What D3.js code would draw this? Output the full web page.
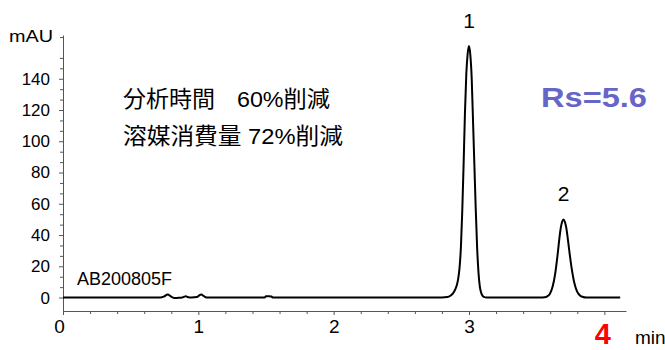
<!DOCTYPE html>
<html><head><meta charset="utf-8">
<script src="https://cdn.jsdelivr.net/npm/d3@7"></script>
<style>
html,body{margin:0;padding:0;background:#fff;}
svg{display:block;}
text{font-family:"Liberation Sans",Arial,"Noto Sans CJK JP",sans-serif;}
</style></head>
<body>
<svg id="c" width="665" height="350"></svg>
<script>
// chromatogram trace: [time (min), signal (mAU)]
const trace = [
  [0,0],[0.3,0],[0.6,0],[0.72,0],[0.745,0.6],[0.774,2.0],[0.80,0.6],[0.825,-0.3],[0.85,-0.2],[0.88,0],
  [0.895,0.5],[0.907,0.8],[0.92,0.4],[0.95,0],[0.99,0.3],[1.005,1.3],[1.022,1.9],[1.04,1.0],[1.06,0],
  [1.1,0],[1.3,0],[1.49,0],[1.50,0.8],[1.52,0.9],[1.54,0.7],[1.55,0],[1.8,0],[2.2,0],[2.6,0],[2.8,0],
  [2.84,0.3],[2.86,1.0],[2.88,2.5],[2.90,5.5],[2.91,8],[2.92,12],[2.93,19],[2.94,32],[2.95,55],[2.96,85],
  [2.97,118],[2.98,143],[2.99,156],[3.00,161],[3.01,155],[3.02,140],[3.03,112],[3.04,84],[3.05,56],
  [3.06,32],[3.07,16],[3.08,7],[3.09,3],[3.10,1.2],[3.11,0.4],[3.13,0],[3.2,0],[3.4,0],[3.53,0],
  [3.558,0.2],[3.578,0.8],[3.598,2.5],[3.618,7],[3.638,16],[3.658,30],[3.668,38],[3.678,44.5],[3.688,48.5],
  [3.698,50],[3.708,48.5],[3.718,45],[3.728,39],[3.738,32],[3.758,19],[3.778,9.5],[3.798,4],[3.818,1.5],
  [3.838,0.5],[3.868,0],[3.95,0],[4.117,0]
];
const peakLabels = ["1","2"];
const peakTimes = [3.00, 3.698];
const peakHeights = [161, 50];
const xTicks = [0,1,2,3,4];
const yTicks = [0,20,40,60,80,100,120,140];
const xDomain = [0, 4.16];
const yDomain = [-8.6, 168];

const svg = d3.select("#c");
const x = d3.scaleLinear().domain(xDomain).range([63, 626]);
const y = d3.scaleLinear().domain(yDomain).range([311, 35]);
const axisColor = "#555";

// minor x ticks
const xMinor = d3.range(0, 4.16, 0.2).filter(v => Math.abs(v - Math.round(v)) > 1e-6);
svg.append("g").attr("transform", `translate(0,${y(yDomain[0])})`)
  .call(d3.axisBottom(x).tickValues(xMinor).tickSize(3).tickSizeOuter(0).tickFormat(""))
  .call(g => g.select(".domain").remove())
  .call(g => g.selectAll("line").attr("stroke", axisColor));
// major x axis
const gx = svg.append("g").attr("transform", `translate(0,${y(yDomain[0])})`)
  .call(d3.axisBottom(x).tickValues(xTicks).tickSize(4).tickSizeOuter(0).tickPadding(5).tickFormat(d3.format("d")));
gx.select(".domain").attr("stroke", axisColor);
gx.selectAll("line").attr("stroke", axisColor);
gx.selectAll("text").attr("font-size", 19).attr("fill", "#000")
  .attr("font-family", "'Liberation Sans',Arial,sans-serif");
gx.selectAll(".tick").filter(d => d === 0).select("text").attr("dx", -4);
// highlighted 4
gx.selectAll(".tick").filter(d => d === 4).select("text")
  .attr("fill", "#ff0000").attr("font-weight", "bold").attr("font-size", 29).attr("dx", -2).attr("dy", 24);

// minor y ticks
const yMinor = d3.range(0, 167, 20/3).filter(v => Math.abs(v/20 - Math.round(v/20)) > 1e-6);
svg.append("g").attr("transform", `translate(${x(0)},0)`)
  .call(d3.axisLeft(y).tickValues(yMinor).tickSize(3).tickSizeOuter(0).tickFormat(""))
  .call(g => g.select(".domain").remove())
  .call(g => g.selectAll("line").attr("stroke", axisColor));
const gy = svg.append("g").attr("transform", `translate(${x(0)},0)`)
  .call(d3.axisLeft(y).tickValues(yTicks).tickSize(4).tickSizeOuter(0).tickPadding(9));
gy.select(".domain").attr("stroke", axisColor);
gy.selectAll("line").attr("stroke", axisColor);
gy.selectAll("text").attr("font-size", 17).attr("fill", "#000")
  .attr("font-family", "'Liberation Sans',Arial,sans-serif");

// trace
const line = d3.line().x(d => x(d[0])).y(d => y(d[1])).curve(d3.curveMonotoneX);
svg.append("path").datum(trace).attr("d", line)
  .attr("fill", "none").attr("stroke", "#000").attr("stroke-width", 2).attr("stroke-linejoin", "round");

// peak labels
svg.selectAll(".pl").data(peakLabels).enter().append("text")
  .attr("x", (d,i) => x(peakTimes[i]))
  .attr("y", (d,i) => y(peakHeights[i]) - 18)
  .attr("text-anchor", "middle").attr("font-size", 21).text(d => d);

// annotation texts
svg.append("text").attr("x", 9).attr("y", 42).attr("font-size", 16)
  .attr("textLength", 44).attr("lengthAdjust", "spacingAndGlyphs").text("mAU");
svg.append("text").attr("x", 635).attr("y", 344).attr("font-size", 19).text("min");
svg.append("text").attr("x", 77).attr("y", 285).attr("font-size", 18)
  .attr("textLength", 95).attr("lengthAdjust", "spacingAndGlyphs").text("AB200805F");
svg.append("text").attr("x", 541).attr("y", 107).attr("font-size", 28).attr("font-weight", "bold")
  .attr("fill", "#6666c8").attr("textLength", 106).attr("lengthAdjust", "spacingAndGlyphs").text("Rs=5.6");

const jp = "'Liberation Sans','Noto Sans CJK JP',sans-serif";
svg.append("text").attr("x", 123).attr("y", 107).attr("font-size", 22.5).attr("font-family", jp)
  .attr("textLength", 92).attr("lengthAdjust", "spacingAndGlyphs").text("分析時間");
svg.append("text").attr("x", 237).attr("y", 107).attr("font-size", 22.5).attr("font-family", jp)
  .attr("textLength", 93).attr("lengthAdjust", "spacingAndGlyphs").text("60%削減");
svg.append("text").attr("x", 123).attr("y", 144).attr("font-size", 22.5).attr("font-family", jp)
  .attr("textLength", 220).attr("lengthAdjust", "spacingAndGlyphs").text("溶媒消費量 72%削減");
</script>
</body></html>
